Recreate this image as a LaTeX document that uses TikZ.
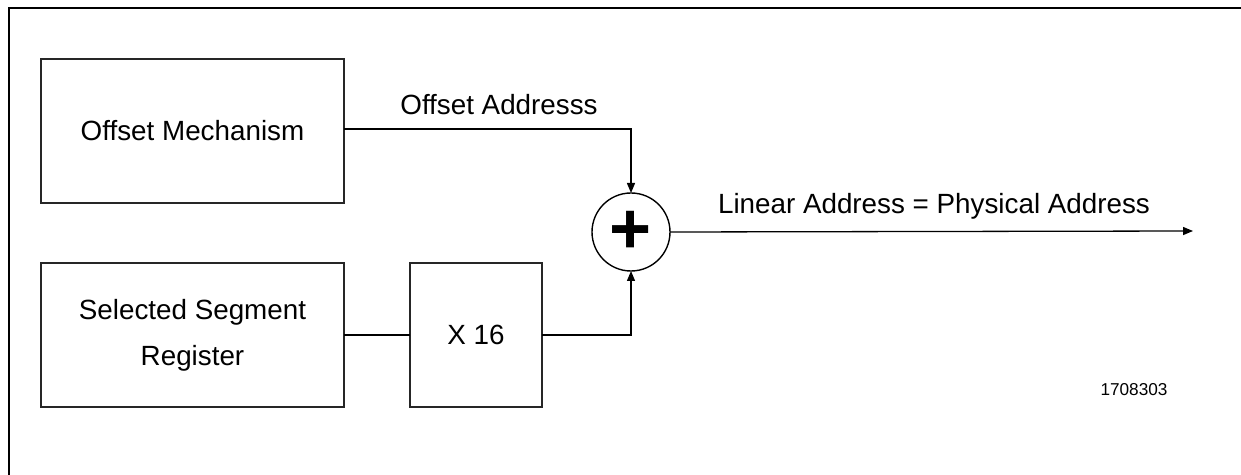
\documentclass[tikz,border=0pt]{standalone}
\usepackage{fontspec}
\setmainfont{Liberation Sans}
\usetikzlibrary{arrows.meta}
\begin{document}
\begin{tikzpicture}[x=0.5pt,y=-0.5pt,
  every node/.style={font=\fontsize{13.9}{17}\selectfont},
  blockbox/.style={draw=black!85, line width=0.7pt, inner sep=0pt, outer sep=0pt, align=center},
  sumnode/.style={draw=black, circle, line width=0.7pt, minimum size=39pt, inner sep=0pt, outer sep=0pt,
     font=\fontsize{36}{36}\selectfont\bfseries},
  conn/.style={line width=0.65pt, -{Triangle[length=5pt,width=4pt]}},
  plainconn/.style={line width=0.65pt},
  lbl/.style={inner sep=0pt}]
\useasboundingbox (0,0) rectangle (1241,475);
% frame (top and left only)
\draw[line width=1.15pt] (8,8) -- (1241,8);
\draw[line width=1.15pt] (9,7.5) -- (9,475);
% blocks
\node[blockbox, minimum width=151.5pt, minimum height=72pt] (off) at (192.5,131) {Offset Mechanism};
\node[blockbox, minimum width=151.5pt, minimum height=72pt] (ssr) at (192.5,335) {Selected Segment\\[6pt]Register};
\node[blockbox, minimum width=66pt, minimum height=72pt] (x16) at (476,335) {X 16};
\node[sumnode] (plus) at (631,232) {\raisebox{-2pt}{+}};
\coordinate (out) at (1193,231);
% connectors
\draw[conn] (off.east |- 0,129) -| (plus.north);
\draw[plainconn] (ssr.east) -- (x16.west);
\draw[conn] (x16.east) -| (plus.south);
\draw[conn] (plus.east) -- (out);
% labels
\node[lbl] (offlbl) at (499,105) {Offset Addresss};
\node[lbl] (outlbl) at (934,206) {Linear Address = Physical Address};
\node[lbl, font=\fontsize{8.6}{10}\selectfont] (fig) at (1134,390) {1708303};
\end{tikzpicture}
\end{document}
